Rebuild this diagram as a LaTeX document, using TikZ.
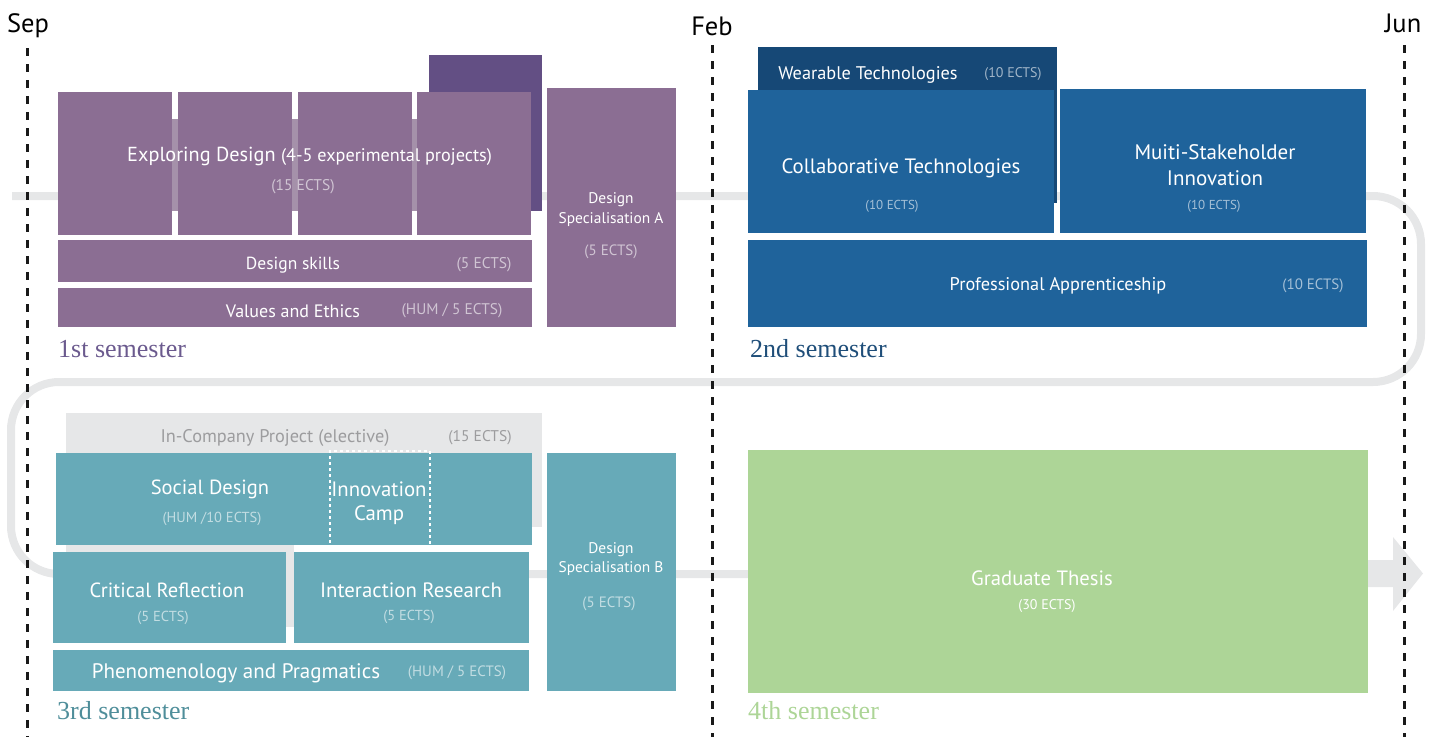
\documentclass[tikz,border=0pt]{standalone}
\usepackage{fontspec}
\setmainfont{PT Sans}
\newfontfamily\semfont{Liberation Serif}
\definecolor{purp}{HTML}{8B6E93}
\definecolor{purpdark}{HTML}{634F84}
\definecolor{purpband}{HTML}{A591AA}
\definecolor{blu}{HTML}{1F639B}
\definecolor{bludark}{HTML}{164876}
\definecolor{teal2}{HTML}{67AAB8}
\definecolor{grn}{HTML}{ADD597}
\definecolor{greyf}{HTML}{E6E7E8}
\definecolor{greyt}{HTML}{9C9C9E}
\definecolor{sem1}{HTML}{6B5A8E}
\definecolor{sem2}{HTML}{1F4E79}
\definecolor{sem3}{HTML}{4F8E9A}
\newcommand{\blk}[6]{\node[#6, anchor=north west, minimum width={(#4-#2)*1pt}, minimum height={(#5-#3)*1pt}] (#1) at (#2,#3) {};}
\begin{document}
\begin{tikzpicture}[x=1pt,y=-1pt,
  blkbase/.style={inner sep=0, outer sep=0, draw=none},
  pbox/.style={blkbase, fill=purp},
  bbox/.style={blkbase, fill=blu},
  tbox/.style={blkbase, fill=teal2},
  tx/.style={text=white, inner sep=0, font=\fontsize{#1}{#1}\selectfont},
  ects/.style={text=white, text opacity=0.6, inner sep=0, font=\fontsize{#1}{#1}\selectfont},
  month/.style={text=black, inner sep=0, font=\fontsize{26.5}{26.5}\selectfont},
  sem/.style={inner sep=0, anchor=west, font=\semfont\fontsize{26}{26}\selectfont},
  flow/.style={draw=greyf, line width=8pt, rounded corners=48pt},
  vdash/.style={draw=black!90, line width=3pt, dash pattern=on 8pt off 8pt}
]
\useasboundingbox (0,0) rectangle (1437,737);

% flow path
\draw[flow] (12,196) -- (1421,196) -- (1421,382) -- (11,382) -- (11,574) -- (1372,574);
\fill[greyf] (1366,560) -- (1393,560) -- (1393,537) -- (1423,573.5) -- (1393,611) -- (1393,587) -- (1366,587) -- cycle;

% ---------- semester 1 ----------
\blk{edback}{429}{55}{542}{211}{blkbase, fill=purpdark}
\blk{edband}{58}{119}{531}{211}{blkbase, fill=purpband}
\blk{ed1}{58}{92}{172}{235}{pbox}
\blk{ed2}{178}{92}{292}{235}{pbox}
\blk{ed3}{298}{92}{412}{235}{pbox}
\blk{ed4}{417}{92}{531}{235}{pbox}
\blk{dskills}{58}{240}{532}{282}{pbox}
\blk{values}{58}{288}{532}{327}{pbox}
\blk{dspecA}{547}{88}{676}{327}{pbox}
\node[tx=20.3, anchor=west] (edT) at (127,156) {Exploring Design \fontsize{18.2}{18.2}\selectfont(4-5 experimental projects)};
\node[ects=15.5] (edE) at (303,187) {(15 ECTS)};
\node[tx=17.5] (dsT) at (293,265) {Design skills};
\node[ects=15.5] (dsE) at (484,265) {(5 ECTS)};
\node[tx=18] (veT) at (293,311) {Values and Ethics};
\node[ects=15.4] (veE) at (452,311) {(HUM / 5 ECTS)};
\node[tx=15.4] (daT1) at (611,200) {Design};
\node[tx=15.4] (daT2) at (611,220) {Specialisation A};
\node[ects=15] (daE) at (611,252) {(5 ECTS)};
\node[sem, text=sem1] (s1) at (58,349) {1st semester};

% ---------- semester 2 ----------
\blk{wear}{758}{47}{1057}{203}{blkbase, fill=bludark}
\blk{collab}{748}{90}{1054}{233}{bbox}
\blk{multi}{1060}{89}{1366}{233}{bbox}
\blk{prof}{748}{240}{1367}{327}{bbox}
\node[tx=18.3] (weT) at (868,75) {Wearable Technologies};
\node[ects=14] (weE) at (1013,74) {(10 ECTS)};
\node[tx=20.8] (coT) at (901,168) {Collaborative Technologies};
\node[ects=13] (coE) at (892,206) {(10 ECTS)};
\node[tx=21] (muT1) at (1215,152) {Muiti-Stakeholder};
\node[tx=21] (muT2) at (1215,178) {Innovation};
\node[ects=13] (muE) at (1214,206) {(10 ECTS)};
\node[tx=18.3] (prT) at (1058,286) {Professional Apprenticeship};
\node[ects=15] (prE) at (1313,286) {(10 ECTS)};
\node[sem, text=sem2] (s2) at (750,349) {2nd semester};

% ---------- semester 3 ----------
\blk{incomp}{66}{413}{542}{527}{blkbase, fill=greyf}
\blk{incomp2}{66}{527}{294}{627}{blkbase, fill=greyf}
\node[text=greyt, inner sep=0, font=\fontsize{18.3}{18.3}\selectfont] (icT) at (275,438) {In-Company Project (elective)};
\node[text=greyt, inner sep=0, font=\fontsize{15.5}{15.5}\selectfont] (icE) at (480,438) {(15 ECTS)};
\blk{social}{56}{453}{532}{545}{tbox}
\blk{critical}{53}{552}{286}{643}{tbox}
\blk{interact}{294}{552}{529}{643}{tbox}
\blk{phen}{53}{650}{529}{691}{tbox}
\blk{dspecB}{547}{453}{676}{691}{tbox}
\node[blkbase, anchor=north west, minimum width=100pt, minimum height=95pt, draw=white, line width=1.2pt, dash pattern=on 3pt off 3pt] (camp) at (330,451) {};
\node[tx=20.5] (sdT) at (210,489) {Social Design};
\node[ects=14.5] (sdE) at (212,519) {(HUM /10 ECTS)};
\node[tx=20.8] (caT1) at (379,489) {Innovation};
\node[tx=20.8] (caT2) at (379,515) {Camp};
\node[tx=20.5] (crT) at (167,590) {Critical Reflection};
\node[ects=14.5] (crE) at (163,618) {(5 ECTS)};
\node[tx=20.8] (irT) at (411,590) {Interaction Research};
\node[ects=14.5] (irE) at (409,617) {(5 ECTS)};
\node[tx=21] (phT) at (236,673) {Phenomenology and Pragmatics};
\node[ects=15] (phE) at (457,673) {(HUM / 5 ECTS)};
\node[tx=15.4] (dbT1) at (611,550) {Design};
\node[tx=15.4] (dbT2) at (611,569) {Specialisation B};
\node[ects=15] (dbE) at (609,604) {(5 ECTS)};
\node[sem, text=sem3] (s3) at (57,711) {3rd semester};

% ---------- semester 4 ----------
\blk{thesis}{748}{450}{1368}{693}{blkbase, fill=grn}
\node[tx=20.7] (thT) at (1042,578) {Graduate Thesis};
\node[tx=14] (thE) at (1047,606) {(30 ECTS)};
\node[sem, text=grn] (s4) at (748,711) {4th semester};

% ---------- timeline ----------
\node[month] (sep) at (28,26) {Sep};
\node[month] (feb) at (712,26) {Feb};
\node[month] (jun) at (1403,23) {Jun};
\coordinate (sepA) at (27,48);  \coordinate (sepB) at (27,737);
\coordinate (febA) at (712,45); \coordinate (febB) at (712,737);
\coordinate (junA) at (1404,45); \coordinate (junB) at (1404,737);
\draw[vdash] (sepA) -- (sepB);
\draw[vdash] (febA) -- (febB);
\draw[vdash] (junA) -- (junB);
\end{tikzpicture}
\end{document}
